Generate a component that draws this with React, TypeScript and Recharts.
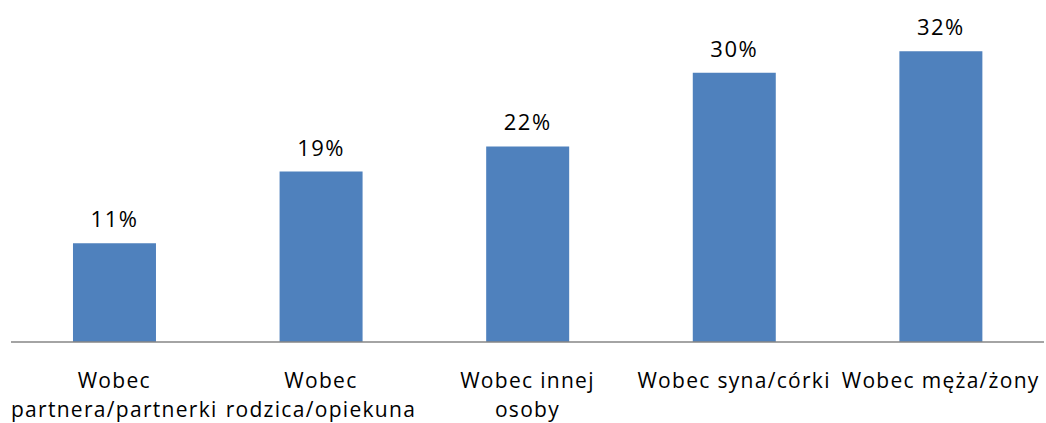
import { BarChart, Bar, XAxis, YAxis, LabelList } from "recharts";

const categories = [
  "Wobec\npartnera/partnerki",
  "Wobec\nrodzica/opiekuna",
  "Wobec innej\nosoby",
  "Wobec syna/córki",
  "Wobec męża/żony",
];
const shares = [11, 19, 21.8, 30, 32.4];

const data = categories.map((name, i) => ({ name, value: shares[i] }));

const FONT = "'Open Sans', sans-serif";

const CategoryTick = (props: any) => {
  const { x, y, payload } = props;
  const lines = String(payload.value).split("\n");
  return (
    <text
      x={x}
      y={y + 46}
      textAnchor="middle"
      fontFamily={FONT}
      fontSize={21}
      letterSpacing={1.3}
      fill="#000"
    >
      {lines.map((line, i) => (
        <tspan key={i} x={x} dy={i === 0 ? 0 : 29}>
          {line}
        </tspan>
      ))}
    </text>
  );
};

const App = () => {
  return (
    <div style={{ position: "absolute", left: 0, top: 0 }}>
      <BarChart
        width={1046}
        height={423}
        data={data}
        barCategoryGap="30%"
        margin={{ top: 28, right: 2, left: 11, bottom: 21 }}
      >
        <XAxis
          dataKey="name"
          interval={0}
          height={60}
          tickLine={false}
          tickSize={0}
          tickMargin={0}
          stroke="#868686"
          strokeWidth={1.5}
          tick={<CategoryTick />}
        />
        <YAxis hide domain={[0, 35]} />
        <Bar dataKey="value" fill="#4F81BD" isAnimationActive={false}>
          <LabelList
            dataKey="value"
            position="top"
            offset={16}
            formatter={(v: any) => `${Math.round(Number(v))}%`}
            style={{ fontFamily: FONT, fontSize: 22, letterSpacing: 1.5, fill: "#000" }}
          />
        </Bar>
      </BarChart>
    </div>
  );
};

export default App;
